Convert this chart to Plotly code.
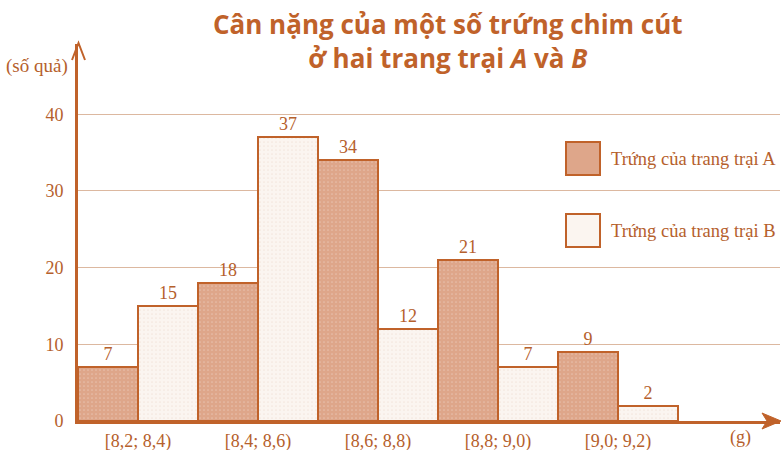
import plotly.graph_objects as go

categories = ["[8,2; 8,4)", "[8,4; 8,6)", "[8,6; 8,8)", "[8,8; 9,0)", "[9,0; 9,2)"]
farm_a = [7, 18, 34, 21, 9]
farm_b = [15, 37, 12, 7, 2]
y_ticks = [0, 10, 20, 30, 40]
series_names = ["Trứng của trang trại A", "Trứng của trang trại B"]

W, H = 781, 450
PL, PR, PT, PB = 78, 780, 44, 421  # plot area in pixels
PX_PER_UNIT = 7.67

def px(x):
    return (x - PL) / (PR - PL)

def py(y):
    return (PB - y) / (PB - PT)

EDGE = "#c0622a"
TXT = "#b5602c"
FILL_A = "#dea68a"
FILL_B = "#fbf5f0"
SERIF = "Liberation Serif"

fig = go.Figure()
fig.add_trace(go.Bar(
    x=categories, y=farm_a, name=series_names[0],
    marker=dict(color=FILL_A, line=dict(color=EDGE, width=2),
                pattern=dict(shape=".", fgcolor="rgba(255,255,255,0.55)", bgcolor=FILL_A, size=4, solidity=0.15)),
    text=farm_a, textposition="outside", cliponaxis=False,
    textfont=dict(family=SERIF, size=18, color=TXT),
))
fig.add_trace(go.Bar(
    x=categories, y=farm_b, name=series_names[1],
    marker=dict(color=FILL_B, line=dict(color=EDGE, width=2),
                pattern=dict(shape=".", fgcolor="#ead8cc", bgcolor=FILL_B, size=4, solidity=0.15)),
    text=farm_b, textposition="outside", cliponaxis=False,
    textfont=dict(family=SERIF, size=18, color=TXT),
))

shapes = [
    # x-axis arrowhead
    dict(type="path", xref="paper", yref="paper",
         path=f"M {px(781)},{py(421)} L {px(762)},{py(413)} L {px(767)},{py(421)} L {px(762)},{py(429)} Z",
         fillcolor=EDGE, line=dict(color=EDGE, width=1)),
    # y-axis arrowhead (open)
    dict(type="path", xref="paper", yref="paper",
         path=f"M {px(72)},{py(60)} L {px(78.5)},{py(43)} L {px(85)},{py(60)}",
         line=dict(color=EDGE, width=2)),
    # legend swatches
    dict(type="rect", xref="paper", yref="paper",
         x0=px(566), x1=px(600), y0=py(175), y1=py(142),
         fillcolor=FILL_A, line=dict(color=EDGE, width=2)),
    dict(type="rect", xref="paper", yref="paper",
         x0=px(566), x1=px(600), y0=py(247), y1=py(214),
         fillcolor=FILL_B, line=dict(color=EDGE, width=2)),
]

annotations = [
    dict(xref="paper", yref="paper", x=px(448), y=py(41), xanchor="center", yanchor="middle",
         text="Cân nặng của một số trứng chim cút<br>ở hai trang trại <i>A</i> và <i>B</i>",
         showarrow=False, font=dict(family="Open Sans", size=26, color=EDGE, weight="bold")),
    dict(xref="paper", yref="paper", x=px(609), y=py(159), xanchor="left", yanchor="middle",
         text=series_names[0], showarrow=False, font=dict(family=SERIF, size=18.5, color=TXT)),
    dict(xref="paper", yref="paper", x=px(609), y=py(231), xanchor="left", yanchor="middle",
         text=series_names[1], showarrow=False, font=dict(family=SERIF, size=18.5, color=TXT)),
    dict(xref="paper", yref="paper", x=px(37), y=py(66), xanchor="center", yanchor="middle",
         text="(số quả)", showarrow=False, font=dict(family=SERIF, size=19, color=TXT)),
    dict(xref="paper", yref="paper", x=px(740), y=py(437), xanchor="center", yanchor="middle",
         text="(g)", showarrow=False, font=dict(family=SERIF, size=18, color=TXT)),
]

fig.update_layout(
    width=W, height=H,
    margin=dict(l=PL, r=W - PR, t=PT, b=H - PB, pad=0, autoexpand=False),
    paper_bgcolor="white", plot_bgcolor="white",
    barmode="group", bargap=0, bargroupgap=0,
    showlegend=False,
    shapes=shapes, annotations=annotations,
    xaxis=dict(type="category", range=[-0.5, -0.5 + (PR - PL) / 120], automargin=False,
               showline=True, linecolor=EDGE, linewidth=3, ticks="",
               showgrid=False, zeroline=False,
               tickfont=dict(family=SERIF, size=18, color=TXT), ticklabelstandoff=1),
    yaxis=dict(range=[0, (PB - PT) / PX_PER_UNIT], tickvals=y_ticks, automargin=False,
               showline=True, linecolor=EDGE, linewidth=3, ticks="",
               showgrid=True, gridcolor="#dcb8a0", gridwidth=1, zeroline=False,
               tickfont=dict(family=SERIF, size=18, color=TXT), ticklabelstandoff=8),
)

fig.write_html("out.html")
